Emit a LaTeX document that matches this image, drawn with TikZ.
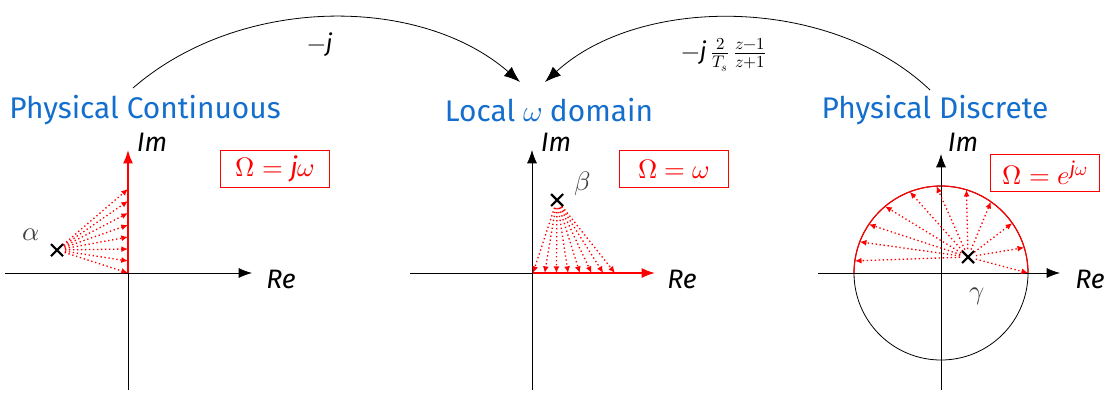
\documentclass[tikz,border=0pt]{standalone}
\usepackage{fontspec}
\usepackage{unicode-math}
\setmainfont{Fira Sans}
\setmathfont{Latin Modern Math}
\usetikzlibrary{arrows.meta,calc}
\definecolor{titleblue}{RGB}{20,110,205}
\tikzset{
  axis/.style={line width=0.6pt,-{Latex[length=10pt,width=7.5pt]}},
  axisplain/.style={line width=0.6pt},
  traj/.style={red,dotted,line width=1pt,shorten <=6pt,-{Latex[length=5pt,width=4.5pt]}},
  title/.style={titleblue,font=\fontsize{22.4}{26}\selectfont},
  axlabel/.style={font=\fontsize{20}{24}\selectfont\itshape},
  mapbox/.style={draw=red,text=red,line width=0.5pt,font=\fontsize{20}{24}\selectfont,inner sep=3pt,minimum width=82pt,minimum height=28pt},
  greek/.style={black!75,font=\fontsize{20}{24}\selectfont},
  maplabel/.style={font=\fontsize{18}{22}\selectfont},
  maparrow/.style={line width=0.6pt,-{Latex[length=12pt,width=9pt]}},
}
\newcommand{\polemark}[1]{\draw[line width=1.6pt] ($(#1)+(-6,-6)$) -- ($(#1)+(6,6)$) ($(#1)+(-6,6)$) -- ($(#1)+(6,-6)$);}
\begin{document}
\begin{tikzpicture}[x=0.75pt,y=-0.75pt]
\useasboundingbox (0,0) rectangle (1105,394);
% titles
\node[title] (t1) at (145,110) {Physical Continuous};
\node[title] (t2) at (549,110) {Local $\omega$ domain};
\node[title] (t3) at (935,110) {Physical Discrete};
% mapping arrows
\coordinate (a1s) at (133,88);
\coordinate (a1e) at (520,82);
\coordinate (a2s) at (930,90);
\coordinate (a2e) at (545,82);
\draw[maparrow] (a1s) .. controls (240,-5) and (420,-5) .. (a1e);
\draw[maparrow] (a2s) .. controls (830,-5) and (640,-5) .. (a2e);
\node[maplabel] (l1) at (320,45) {$-\textit{j}$};
\node[maplabel] (l2) at (724,55) {$-\textit{j}\,\frac{2}{T_s}\,\frac{z-1}{z+1}$};

% ---------- left: continuous ----------
\coordinate (o1) at (128,273);
\coordinate (r1) at (252,273);
\coordinate (rl1) at (5,273);
\coordinate (b1) at (128,390);
\coordinate (u1) at (128,150);
\draw[axis] (rl1) -- (r1);
\draw[axisplain] (b1) -- (o1);
\draw[axis,red,line width=1.2pt] (o1) -- (u1);
\node[axlabel] (im1) at (152,142) {Im};
\node[axlabel] (re1) at (281,279) {Re};
\node[mapbox] (m1) at (275,169) {$\Omega = \textit{j}\omega$};
\coordinate (p1) at (57,250);
\foreach \k in {0,...,7}{
  \coordinate (e1\k) at (128,{273-12*\k});
  \draw[traj] (p1) -- (e1\k);
}
\polemark{p1}
\node[greek] (al) at (31,235) {$\alpha$};

% ---------- middle: local omega ----------
\coordinate (o2) at (532,273);
\coordinate (r2) at (655,273);
\coordinate (rl2) at (410,273);
\coordinate (b2) at (532,390);
\coordinate (u2) at (532,150);
\draw[axisplain] (rl2) -- (o2);
\draw[axis,red,line width=1.2pt] (o2) -- (r2);
\draw[axis] (b2) -- (u2);
\node[axlabel] (im2) at (556,142) {Im};
\node[axlabel] (re2) at (682,279) {Re};
\node[mapbox] (m2) at (674,169) {$\Omega = \omega$};
\coordinate (p2) at (557,200);
\foreach \k in {0,...,7}{
  \coordinate (e2\k) at ({533+11.7*\k},273);
  \draw[traj] (p2) -- (e2\k);
}
\polemark{p2}
\node[greek] (be) at (583,184) {$\beta$};

% ---------- right: discrete ----------
\coordinate (o3) at (941,273);
\coordinate (r3) at (1060,273);
\coordinate (rl3) at (818,273);
\coordinate (b3) at (941,390);
\coordinate (u3) at (941,154);
\draw[line width=0.6pt] (o3) circle[radius=87];
\draw[red,line width=0.9pt] ($(o3)+(87,0)$) arc[start angle=0,end angle=-180,radius=87];
\draw[axis] (rl3) -- (r3);
\draw[axis] (b3) -- (u3);
\node[axlabel] (im3) at (963,142) {Im};
\node[axlabel] (re3) at (1090,279) {Re};
\node[mapbox] (m3) at (1045,173) {$\Omega = e^{\textit{j}\omega}$};
\coordinate (p3) at (968,257);
\foreach \a [count=\k] in {0,17,35,55,73,93,111,130,146,159,172}{
  \coordinate (e3\k) at ($(o3)+({87*cos(\a)},{-87*sin(\a)})$);
  \draw[traj] (p3) -- (e3\k);
}
\polemark{p3}
\node[greek] (ga) at (977,296) {$\gamma$};
\end{tikzpicture}
\end{document}
